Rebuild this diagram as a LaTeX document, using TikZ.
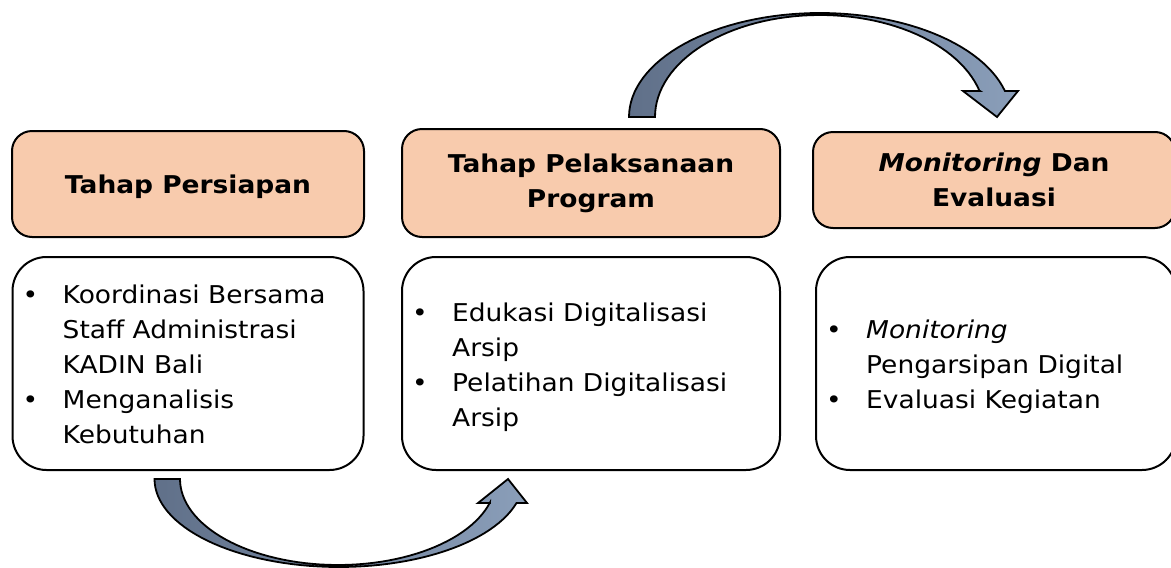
\documentclass[tikz,border=0pt]{standalone}
\usepackage{fontspec}
\setmainfont{DejaVu Sans}[FakeStretch=1.08]
\usepackage{tikz}
\definecolor{peach}{RGB}{248,203,173}
\definecolor{slatedark}{RGB}{96,112,137}
\definecolor{slatelight}{RGB}{138,158,185}

\begin{document}
\begin{tikzpicture}[x=1pt, y=-1pt,
	phase/.style={draw, line width=2pt, fill=peach, rounded corners=20pt, align=center, font=\fontsize{24.5}{35}\selectfont\bfseries},
	task/.style={draw, line width=2pt, fill=white, rounded corners=34pt, minimum height=213pt},
	items/.style={anchor=west, inner sep=0pt, font=\fontsize{24.5}{35}\selectfont},
	bendarrow/.style={draw, line width=1.8pt, line join=miter, left color=slatedark, right color=slatelight}]
	\useasboundingbox (0,0) rectangle (1171,568);
	% the three phases
	\node[phase, minimum width=352pt, minimum height=106pt, text depth=0pt] (prep) at (188,184) {Tahap Persiapan};
	\node[phase, minimum width=378pt, minimum height=108pt] (impl) at (591,183) {Tahap Pelaksanaan\\Program};
	\node[phase, minimum width=362pt, minimum height=96pt] (eval) at (994,180) {\textit{Monitoring} Dan\\Evaluasi};
		\node[task, minimum width=351pt] (prepbox) at (188,363.5) {};
		\node[task, minimum width=378pt] (implbox) at (591,363.5) {};
		\node[task, minimum width=360pt] (evalbox) at (996,363.5) {};
	\node[items] (preplist) at ([xshift=11pt, yshift=-3pt]prepbox.west) {\begin{tabular}{@{}p{40pt}@{}l@{}}
		\textbullet & Koordinasi Bersama\\
		 & Staff Administrasi\\
		 & KADIN Bali\\
		\textbullet & Menganalisis\\
		 & Kebutuhan\end{tabular}};
	\node[items] (impllist) at ([xshift=11pt, yshift=-3pt]implbox.west) {\begin{tabular}{@{}p{40pt}@{}l@{}}
		\textbullet & Edukasi Digitalisasi\\
		 & Arsip\\
		\textbullet & Pelatihan Digitalisasi\\
		 & Arsip\end{tabular}};
	\node[items] (evallist) at ([xshift=11pt, yshift=-3pt]evalbox.west) {\begin{tabular}{@{}p{40pt}@{}l@{}}
		\textbullet & \textit{Monitoring}\\
		 & Pengarsipan Digital\\
		\textbullet & Evaluasi Kegiatan\end{tabular}};
	% curved block arrows
	\draw[bendarrow] plot[domain=180:345.5, samples=60] ({820+191*cos(\x)}, {117+104*sin(\x)})
		-- (1018,91) -- (997,117) -- (963,91) -- (980,91)
		-- plot[domain=345:180, samples=60] ({820+165*cos(\x)}, {117+102*sin(\x)}) -- cycle;
	\draw[bendarrow] plot[domain=180:15.8, samples=60] ({339+184.5*cos(\x)}, {479+88*sin(\x)})
		-- (527,503) -- (508,479) -- (478,503) -- (490,503)
		-- plot[domain=15.8:180, samples=60] ({338+158*cos(\x)}, {479+86*sin(\x)}) -- cycle;
\end{tikzpicture}
\end{document}
